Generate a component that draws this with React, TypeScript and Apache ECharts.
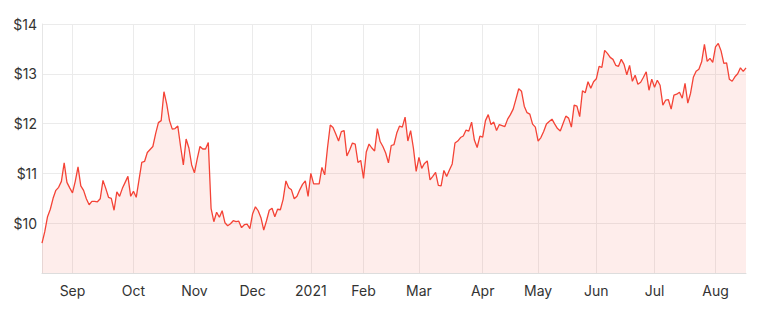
import React, { useEffect, useRef } from "react";
import * as echarts from "echarts";

// ASX trading days, 17 Aug 2020 – 17 Aug 2021
const startDate = "2020-08-17";
const endDate = "2021-08-17";
const holidays = ["2020-12-25", "2020-12-28", "2021-01-01", "2021-01-26", "2021-04-02", "2021-04-05", "2021-06-14"];

const monthNames = ["2021", "Feb", "Mar", "Apr", "May", "Jun", "Jul", "Aug", "Sep", "Oct", "Nov", "Dec"];

const yTicks = [9, 10, 11, 12, 13, 14];

const prices = [
  9.6, 9.83, 10.13, 10.28, 10.5, 10.66, 10.72, 10.84, 11.21, 10.82,
  10.71, 10.61, 10.84, 11.13, 10.75, 10.66, 10.49, 10.37, 10.44, 10.44,
  10.43, 10.49, 10.86, 10.7, 10.52, 10.5, 10.26, 10.63, 10.54, 10.7,
  10.82, 10.94, 10.54, 10.64, 10.52, 10.87, 11.22, 11.24, 11.42, 11.48,
  11.54, 11.8, 12.02, 12.06, 12.64, 12.39, 12.06, 11.89, 11.9, 11.95,
  11.54, 11.17, 11.69, 11.51, 11.17, 11.01, 11.29, 11.54, 11.49, 11.49,
  11.62, 10.3, 10.03, 10.22, 10.12, 10.25, 10.01, 9.95, 9.99, 10.05,
  10.03, 10.04, 9.91, 9.97, 9.98, 9.89, 10.19, 10.33, 10.25, 10.11,
  9.86, 10.05, 10.26, 10.3, 10.13, 10.28, 10.27, 10.48, 10.85, 10.71,
  10.67, 10.49, 10.54, 10.67, 10.78, 10.85, 10.54, 11.0, 10.79, 10.79,
  10.79, 11.12, 10.97, 11.51, 11.97, 11.92, 11.79, 11.65, 11.84, 11.86,
  11.35, 11.47, 11.61, 11.59, 11.22, 11.26, 10.9, 11.43, 11.59, 11.51,
  11.45, 11.9, 11.64, 11.54, 11.41, 11.21, 11.56, 11.58, 11.81, 11.95,
  11.93, 12.13, 11.65, 11.86, 11.51, 11.04, 11.32, 11.1, 11.2, 11.25,
  10.87, 10.94, 11.02, 10.76, 10.75, 11.06, 10.94, 11.07, 11.19, 11.61,
  11.65, 11.72, 11.75, 11.87, 11.85, 12.03, 11.67, 11.52, 11.75, 11.73,
  12.06, 12.18, 11.98, 12.03, 11.86, 11.98, 11.96, 11.94, 12.09, 12.18,
  12.29, 12.49, 12.7, 12.65, 12.35, 12.22, 12.19, 11.99, 11.93, 11.65,
  11.72, 11.84, 11.99, 12.04, 12.09, 11.99, 11.9, 11.85, 12.0, 12.15,
  12.11, 11.93, 12.37, 12.35, 12.14, 12.66, 12.62, 12.84, 12.71, 12.84,
  12.9, 13.15, 13.13, 13.47, 13.41, 13.33, 13.29, 13.17, 13.15, 13.29,
  13.19, 12.98, 13.17, 12.85, 12.97, 12.79, 12.83, 12.93, 13.04, 12.67,
  12.89, 12.73, 12.87, 12.77, 12.37, 12.47, 12.48, 12.29, 12.57, 12.59,
  12.63, 12.51, 12.81, 12.41, 12.61, 12.93, 13.05, 13.09, 13.24, 13.59,
  13.25, 13.31, 13.23, 13.54, 13.61, 13.46, 13.21, 13.22, 12.89, 12.85,
  12.94, 13.0, 13.12, 13.05, 13.12,
];

function tradingDays(): string[] {
  const out: string[] = [];
  const d = new Date(startDate + "T00:00:00Z");
  const end = new Date(endDate + "T00:00:00Z");
  while (d <= end) {
    const iso = d.toISOString().slice(0, 10);
    const wd = d.getUTCDay();
    if (wd !== 0 && wd !== 6 && holidays.indexOf(iso) < 0) out.push(iso);
    d.setUTCDate(d.getUTCDate() + 1);
  }
  return out;
}

export default function App() {
  const ref = useRef<HTMLDivElement>(null);
  useEffect(() => {
    if (!ref.current) return;
    const chart = echarts.init(ref.current, null, { renderer: "svg" });
    const dates = tradingDays().slice(0, prices.length);
    const isMonthStart = (index: number) =>
      index > 0 && dates[index].slice(5, 7) !== dates[index - 1].slice(5, 7);
    const font = "Inter, 'Noto Sans', sans-serif";
    chart.setOption({
      animation: false,
      grid: { left: 34, right: 6, top: 16, bottom: 38, containLabel: false },
      xAxis: {
        type: "category",
        data: dates,
        boundaryGap: false,
        axisLine: { show: true, lineStyle: { color: "#dddddd" } },
        axisTick: { show: false },
        axisLabel: {
          interval: (i: number) => isMonthStart(i),
          formatter: (v: string) => monthNames[parseInt(v.slice(5, 7), 10) - 1],
          color: "#333333",
          fontSize: 14,
          fontFamily: font,
          margin: 10,
        },
        splitLine: {
          show: true,
          interval: (i: number) => isMonthStart(i),
          lineStyle: { color: "#ebebeb", width: 1 },
        },
      },
      yAxis: {
        type: "value",
        min: yTicks[0],
        max: yTicks[yTicks.length - 1],
        interval: 1,
        axisLine: { show: true, lineStyle: { color: "#e6e6e6" } },
        axisTick: { show: false },
        axisLabel: {
          formatter: (v: number) => (v === yTicks[0] ? "" : "$" + v),
          color: "#333333",
          fontSize: 14,
          fontFamily: font,
          margin: 5,
        },
        splitLine: { show: true, lineStyle: { color: "#ebebeb", width: 1 } },
      },
      series: [
        {
          type: "line",
          data: prices,
          showSymbol: false,
          symbol: "none",
          lineStyle: { color: "#f44336", width: 1.3 },
          areaStyle: { color: "rgba(244,67,54,0.14)" },
          itemStyle: { color: "#f44336" },
        },
      ],
    });
    return () => chart.dispose();
  }, []);
  return <div ref={ref} style={{ width: 744, height: 303, margin: 0 }} />;
}
